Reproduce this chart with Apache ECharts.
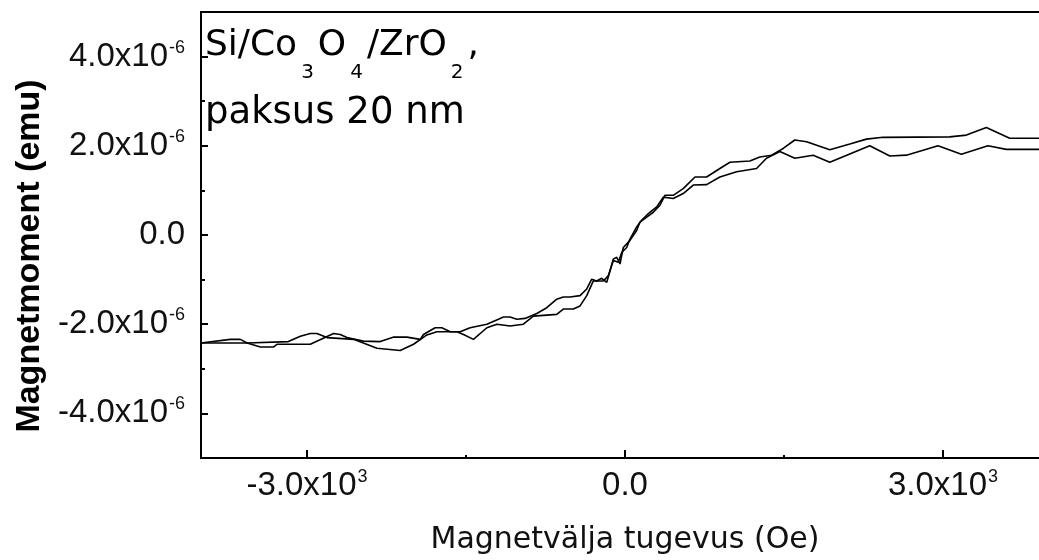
<!DOCTYPE html>
<html><head><meta charset="utf-8">
<script src="https://cdn.jsdelivr.net/npm/echarts@6/dist/echarts.min.js"></script>
<style>html,body{margin:0;padding:0;background:#fff}#c{width:1039px;height:560px}</style>
</head><body><div id="c"></div>
<script>
// Magnetic field (Oe)
const xTicks = [-3000, 0, 3000];
const xTickLabels = ['-3.0x10^3', '0.0', '3.0x10^3'];
const xMinorTicks = [-1500, 1500];
// Magnetic moment, in units of 1e-6 emu
const yTicks = [-4, -2, 0, 2, 4];
const yTickLabels = ['-4.0x10^-6', '-2.0x10^-6', '0.0', '2.0x10^-6', '4.0x10^-6'];
const yMinorTicks = [-3, -1, 1, 3];

const branchOne = [[-4000,-2.42],[-3817,-2.42],[-3565,-2.42],[-3440,-2.51],[-3315,-2.51],[-3283,-2.45],[-2969,-2.45],[-2749,-2.21],[-2686,-2.23],[-2623,-2.30],[-2469,-2.38],[-2309,-2.39],[-2187,-2.29],[-2057,-2.29],[-1932,-2.34],[-1901,-2.23],[-1791,-2.08],[-1728,-2.08],[-1649,-2.17],[-1555,-2.17],[-1461,-2.08],[-1303,-2.00],[-1194,-1.89],[-1147,-1.84],[-1084,-1.84],[-1021,-1.89],[-943,-1.87],[-832,-1.76],[-738,-1.63],[-644,-1.44],[-582,-1.39],[-518,-1.39],[-424,-1.36],[-361,-1.21],[-314,-0.99],[-267,-1.03],[-220,-0.97],[-172,-1.06],[-141,-0.80],[-110,-0.54],[-78,-0.50],[-47,-0.65],[-16,-0.28],[47,-0.12],[110,0.10],[141,0.29],[205,0.40],[267,0.51],[330,0.67],[377,0.89],[455,0.89],[549,1.04],[660,1.30],[770,1.30],[895,1.49],[990,1.63],[1178,1.66],[1272,1.75],[1383,1.79],[1492,1.94],[1602,2.13],[1713,2.09],[1932,1.91],[2121,2.04],[2278,2.15],[2434,2.19],[3063,2.20],[3221,2.24],[3409,2.41],[3629,2.17],[4000,2.17]];
const branchTwo = [[-4000,-2.42],[-3723,-2.34],[-3629,-2.34],[-3565,-2.42],[-3176,-2.39],[-3063,-2.27],[-2969,-2.21],[-2906,-2.21],[-2812,-2.30],[-2561,-2.34],[-2340,-2.54],[-2121,-2.59],[-1995,-2.45],[-1869,-2.24],[-1775,-2.17],[-1586,-2.17],[-1524,-2.23],[-1430,-2.34],[-1303,-2.08],[-1209,-2.00],[-1084,-2.04],[-959,-2.00],[-864,-1.82],[-644,-1.78],[-582,-1.66],[-487,-1.66],[-424,-1.59],[-361,-1.36],[-299,-1.03],[-204,-1.03],[-157,-0.91],[-110,-0.57],[-63,-0.61],[-31,-0.39],[16,-0.28],[47,-0.09],[110,0.18],[157,0.33],[220,0.48],[299,0.63],[361,0.85],[455,0.82],[549,0.93],[644,1.12],[770,1.13],[895,1.30],[1053,1.42],[1241,1.49],[1335,1.72],[1461,1.87],[1602,1.72],[1775,1.79],[1932,1.63],[2309,2.00],[2498,1.77],[2655,1.79],[2953,2.00],[3173,1.81],[3424,2.00],[3597,1.92],[4000,1.92]];

function toRich(label) {
  const i = label.indexOf('^');
  if (i < 0) return '{m|' + label + '}';
  return '{m|' + label.slice(0, i) + '}{s|' + label.slice(i + 1) + '}';
}
function labelFor(ticks, labels) {
  return function (v) {
    for (let k = 0; k < ticks.length; k++) if (Math.abs(ticks[k] - v) < 1e-9 * Math.max(1, Math.abs(v))) return toRich(labels[k]);
    return '';
  };
}
const tickRich = {
  m: {fontFamily: 'Liberation Sans', fontSize: 33, color: '#111', lineHeight: 36},
  s: {fontFamily: 'Liberation Sans', fontSize: 18, color: '#111', lineHeight: 18, verticalAlign: 'top', padding: [0, 0, 0, 1]}
};

const chart = echarts.init(document.getElementById('c'), null, {renderer: 'canvas'});
chart.setOption({
  animation: false,
  backgroundColor: '#fff',
  grid: {left: 201, top: 12, right: -10, bottom: 102, show: true, borderColor: '#000', borderWidth: 2, containLabel: false, outerBoundsMode: 'none'},
  xAxis: [{
    type: 'value', min: -4000, max: 4000, position: 'bottom',
    axisLine: {show: false, onZero: false},
    splitLine: {show: false},
    axisTick: {show: true, inside: true, length: 8, lineStyle: {color: '#000', width: 2}, customValues: xTicks},
    axisLabel: {customValues: xTicks, formatter: labelFor(xTicks, xTickLabels), margin: 10, rich: tickRich},
    name: 'Magnetvälja tugevus (Oe)', nameLocation: 'middle', nameGap: 67,
    nameTextStyle: {fontFamily: 'DejaVu Sans', fontSize: 30, color: '#111'}
  }, {
    type: 'value', min: -4000, max: 4000, position: 'bottom', offset: 0,
    axisLine: {show: false, onZero: false}, splitLine: {show: false}, axisLabel: {show: false},
    axisTick: {show: true, inside: true, length: 3, lineStyle: {color: '#000', width: 2}, customValues: xMinorTicks}
  }],
  yAxis: [{
    type: 'value', min: -5, max: 5, position: 'left',
    axisLine: {show: false, onZero: false},
    splitLine: {show: false},
    axisTick: {show: true, inside: true, length: 7, lineStyle: {color: '#000', width: 2}, customValues: yTicks},
    axisLabel: {customValues: yTicks, formatter: labelFor(yTicks, yTickLabels), margin: 16, rich: tickRich},
    name: 'Magnetmoment (emu)', nameLocation: 'middle', nameGap: 150,
    nameTextStyle: {fontFamily: 'Liberation Sans', fontWeight: 'bold', fontSize: 34, color: '#000', padding: [0, 42, 0, 0]}
  }, {
    type: 'value', min: -5, max: 5, position: 'left', offset: 0,
    axisLine: {show: false, onZero: false}, splitLine: {show: false}, axisLabel: {show: false},
    axisTick: {show: true, inside: true, length: 4, lineStyle: {color: '#000', width: 2}, customValues: yMinorTicks}
  }],
  series: [
    {name: 'Branch 1', type: 'line', xAxisIndex: 0, yAxisIndex: 0, data: branchOne, showSymbol: false, symbol: 'none', lineStyle: {color: '#000', width: 1.6}, z: 3},
    {name: 'Branch 2', type: 'line', xAxisIndex: 0, yAxisIndex: 0, data: branchTwo, showSymbol: false, symbol: 'none', lineStyle: {color: '#000', width: 1.6}, z: 3}
  ],
  graphic: [
    {type: 'text', x: 205, y: 28, z: 10, style: {
      text: '{m|Si/Co}{s|3}{m|O}{s|4}{m|/ZrO}{s|2}{m|,}',
      verticalAlign: 'top', align: 'left',
      rich: {
        m: {fontFamily: 'DejaVu Sans', fontSize: 36, lineHeight: 38, verticalAlign: 'top', fill: '#000'},
        s: {fontFamily: 'DejaVu Sans', fontSize: 20, lineHeight: 20, verticalAlign: 'top', padding: [35, 4, 0, 4], fill: '#000'}
      }
    }},
    {type: 'text', x: 205, y: 113, z: 10, style: {
      text: 'paksus 20 nm', fontFamily: 'DejaVu Sans', fontSize: 37, fill: '#000', verticalAlign: 'middle', align: 'left'
    }}
  ]
});
</script>
</body></html>
